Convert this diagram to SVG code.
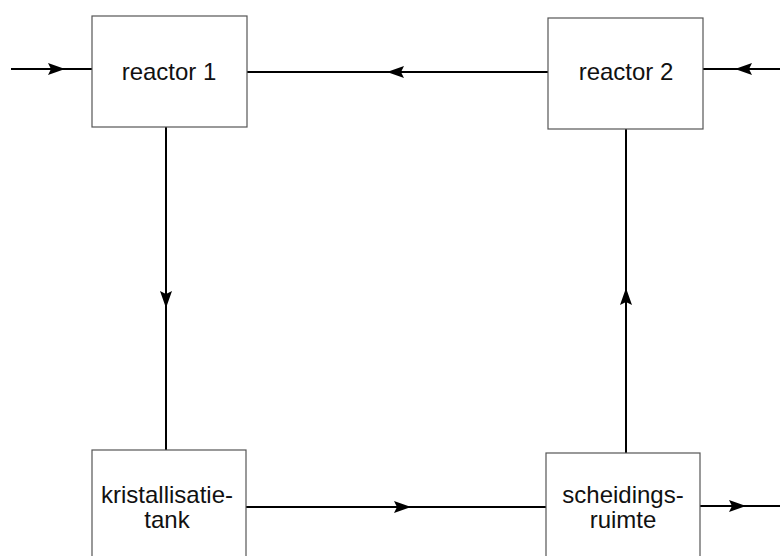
<svg xmlns="http://www.w3.org/2000/svg" width="780" height="556" viewBox="0 0 780 556">
<defs>
<style>
.box{fill:#fff;stroke:#555;stroke-width:1.2}
.lbl{font-family:"Liberation Sans",Arial,sans-serif;font-size:24px;fill:#111;text-anchor:middle}
.ln{stroke:#000;stroke-width:2;fill:none}
.ah{fill:#000}
</style>
<path id="arr" d="M0,0 L-17,-6 L-14,0 L-17,6 Z"/>
</defs>
<g id="connectors">
<line class="ln" x1="11" y1="69" x2="92" y2="69"/>
<use href="#arr" class="ah" transform="translate(65,69)"/>
<line class="ln" x1="247" y1="72" x2="548" y2="72"/>
<use href="#arr" class="ah" transform="translate(387,72) rotate(180)"/>
<line class="ln" x1="703" y1="69" x2="780" y2="69"/>
<use href="#arr" class="ah" transform="translate(735,69) rotate(180)"/>
<line class="ln" x1="166" y1="127" x2="166" y2="450"/>
<use href="#arr" class="ah" transform="translate(166,308) rotate(90)"/>
<line class="ln" x1="626" y1="129" x2="626" y2="453"/>
<use href="#arr" class="ah" transform="translate(626,288) rotate(-90)"/>
<line class="ln" x1="246" y1="507" x2="546" y2="507"/>
<use href="#arr" class="ah" transform="translate(411,507)"/>
<line class="ln" x1="700" y1="506" x2="780" y2="506"/>
<use href="#arr" class="ah" transform="translate(746,506)"/>
</g>
<g id="reactor1">
<rect class="box" x="92" y="16" width="155" height="111"/>
<text class="lbl" x="169" y="80">reactor 1</text>
</g>
<g id="reactor2">
<rect class="box" x="548" y="18" width="155" height="111"/>
<text class="lbl" x="626" y="80">reactor 2</text>
</g>
<g id="kristallisatietank">
<rect class="box" x="92" y="450" width="154" height="120"/>
<text class="lbl" x="167" y="503">kristallisatie-</text>
<text class="lbl" x="167" y="528">tank</text>
</g>
<g id="scheidingsruimte">
<rect class="box" x="546" y="453" width="154" height="120"/>
<text class="lbl" x="623" y="503">scheidings-</text>
<text class="lbl" x="623" y="528">ruimte</text>
</g>
</svg>
